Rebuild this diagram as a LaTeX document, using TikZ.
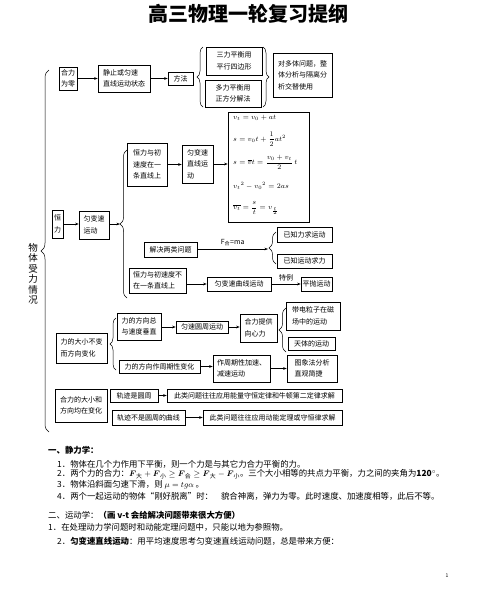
\documentclass[tikz,border=0pt]{standalone}
\usepackage{fontspec}
\setmainfont{Noto Sans CJK SC}
\usepackage{amsmath}
\usetikzlibrary{arrows.meta,decorations.pathreplacing}

\begin{document}
\begin{tikzpicture}[x=1pt, y=-1pt,
    box/.style={draw, line width=0.6pt, inner sep=1pt, align=left, font=\fontsize{7}{11.5}\selectfont},
    sz/.style 2 args={minimum width=#1, minimum height=#2},
    arr/.style={-{Stealth[length=3.5pt,width=2.6pt]}, line width=0.6pt},
    brc/.style={decorate, decoration={brace, amplitude=#1}, line width=0.5pt},
    brc/.default=6pt,
    fml/.style={anchor=west, inner sep=0pt, font=\fontsize{7.3}{9}\selectfont},
    txt/.style={anchor=west, inner sep=0pt, font=\fontsize{8.4}{10}\selectfont}]
\useasboundingbox (0,0) rectangle (496,595);
\fill[white] (0,0) rectangle (496,595);

\node[font=\fontsize{20}{22}\selectfont\bfseries] (title) at (248,14) {高三物理一轮复习提纲};

% big brace
\draw[brc=8pt] (49,432) -- (49,70);
\node[align=center, inner sep=0pt, font=\fontsize{9.5}{10.5}\selectfont] (wtsl) at (33,274) {物\\体\\受\\力\\情\\况};

% balance
\node[box, sz={18}{23}] (hlwl) at (68,78.5) {合力\\为零};
\node[box, sz={52}{27}] (jzzt) at (124,78.5) {静止或匀速\\直线运动状态};
\node[box, sz={25}{13}] (ff) at (180.5,78.5) {方法};
\node[box, sz={56}{28}] (slph) at (234,61) {三力平衡用\\平行四边形};
\node[box, sz={56}{27}] (dlph) at (233,93.5) {多力平衡用\\正方分解法};
\node[box, sz={59}{44}] (dtwt) at (302.5,75) {对多体问题，整\\体分析与隔离分\\析交替使用};
\draw[arr] (hlwl.east) -- (jzzt.west |- hlwl.east);
\draw[arr] (jzzt.east) -- (ff.west |- jzzt.east);
\draw[brc] (203,107) -- (203,47);
\draw[brc] (263,47) -- (263,107);

% constant force
\node[box, sz={11}{28}] (hl) at (57.5,224) {恒\\力};
\node[box, sz={30}{28}] (ybs) at (94,225) {匀变速\\运动};
\coordinate (tipa) at (120,224);
\draw[arr] (hl.east) -- (ybs.west |- hl.east);
\draw[arr] (ybs.east |- tipa) -- (tipa);
\draw[brc=7pt] (127,298) -- (127,150);

\node[box, sz={40}{43}] (hlzx) at (147,164.5) {恒力与初\\速度在一\\条直线上};
\node[box, sz={31}{38}] (ybzx) at (197.5,164) {匀变速\\直线运\\动};
\node[box, sz={81}{110}] (gs) at (268.5,167) {};
\draw[arr] (hlzx.east) -- (ybzx.west |- hlzx.east);
\draw[arr] (ybzx.east) -- (gs.west |- ybzx.east);
\node[fml] (f1) at (233,118) {$v_t=v_0+at$};
\node[fml] (f2) at (233,139) {$s=v_0t+\dfrac{1}{2}at^2$};
\node[fml] (f3) at (233,162.5) {$s=\overline{v}t=\dfrac{v_0+v_t}{2}\,t$};
\node[fml] (f4) at (233,186) {${v_t}^{2}-{v_0}^{2}=2as$};
\node[fml] (f5) at (233,208) {$\overline{v_t}=\dfrac{s}{t}=v_{\frac{t}{2}}$};

\node[box, sz={53}{15}] (jjwt) at (170.5,249.5) {解决两类问题};
\coordinate (tipb) at (268,249);
\draw[arr] (jjwt.east |- tipb) -- node[above, font=\fontsize{7}{8}\selectfont, yshift=-1pt] (fma) {F$_{\text{合}}$=ma} (tipb);
\draw[brc=7pt] (276,264) -- (276,232);
\node[box, sz={55}{15}] (yzl) at (304.5,234.5) {已知力求运动};
\node[box, sz={55}{14}] (yzyd) at (304.5,261) {已知运动求力};

\node[box, sz={57}{25}] (hlbz) at (157.5,280.5) {恒力与初速度不\\在一条直线上};
\node[box, sz={64}{14}] (ybqx) at (239,284) {匀变速曲线运动};
\node[box, sz={31}{14}] (pp) at (316.5,284) {平抛运动};
\draw[arr] (hlbz.east |- ybqx.west) -- (ybqx.west);
\draw[arr] (ybqx.east) -- node[above, font=\fontsize{7}{8}\selectfont, yshift=-0.5pt] (tl) {特例} (pp.west |- ybqx.east);

% direction changes
\node[box, sz={51}{30}] (dxbb) at (81.5,348) {力的大小不变\\而方向变化};
\draw[brc] (116,370) -- (116,318);
\node[box, sz={44}{27}] (fxcz) at (139,326.5) {力的方向总\\与速度垂直};
\node[box, sz={52}{12}] (ysyz) at (202,327) {匀速圆周运动};
\node[box, sz={37}{28}] (hltg) at (258.5,328) {合力提供\\向心力};
\draw[brc=7pt] (286,352) -- (286,308);
\node[box, sz={54}{28}] (ddlz) at (313,316) {带电粒子在磁\\场中的运动};
\node[box, sz={47}{13}] (ttyd) at (311.5,343.5) {天体的运动};
\draw[arr] (fxcz.east |- ysyz.west) -- (ysyz.west);
\draw[arr] (ysyz.east) -- (hltg.west |- ysyz.east);

\node[box, sz={81}{13}] (zqbh) at (159.5,366.5) {力的方向作周期性变化};
\node[box, sz={57}{27}] (zqjs) at (241.5,368.5) {作周期性加速、\\减速运动};
\node[box, sz={50}{27}] (txf) at (312,368.5) {图象法分析\\直观简捷};
\draw[arr] (zqbh.east) -- (zqjs.west |- zqbh.east);
\draw[arr] (zqjs.east) -- (txf.west |- zqjs.east);

% both change
\node[box, sz={52}{33}] (dxfx) at (81,405.5) {合力的大小和\\方向均在变化};
\node[box, sz={48}{13}] (gjy) at (134,395.5) {轨迹是圆周};
\node[box, sz={175}{13}] (nlsh) at (254.5,395.5) {此类问题往往应用能量守恒定律和牛顿第二定律求解};
\node[box, sz={73}{15}] (gjb) at (148.5,417.5) {轨迹不是圆周的曲线};
\node[box, sz={139}{15}] (dndl) at (272.5,417.5) {此类问题往往应用动能定理或守恒律求解};
\draw[arr] (gjy.east) -- (nlsh.west |- gjy.east);
\draw[arr] (gjb.east) -- (dndl.west |- gjb.east);

% notes
\node[txt, font=\fontsize{8.4}{10}\selectfont\bfseries] (t1) at (48,450) {一、静力学：};
\node[txt] (t2) at (57,464) {1．物体在几个力作用下平衡，则一个力是与其它力合力平衡的力。};
\node[txt] (t3) at (57,474.5) {2．两个力的合力：$\boldsymbol{F}_{\text{大}}+\boldsymbol{F}_{\text{小}}\ge\boldsymbol{F}_{\text{合}}\ge\boldsymbol{F}_{\text{大}}-\boldsymbol{F}_{\text{小}}$。三个大小相等的共点力平衡，力之间的夹角为\textbf{120}$^\circ$。};
\node[txt] (t4) at (57,485) {3．物体沿斜面匀速下滑，则 $\mu=tg\alpha$ 。};
\node[txt] (t5) at (57,496) {4．两个一起运动的物体“刚好脱离”时：\hspace{8pt}貌合神离，弹力为零。此时速度、加速度相等，此后不等。};
\node[txt] (t6) at (48,515) {二、运动学：\textbf{（画 v-t 会给解决问题带来很大方便）}};
\node[txt] (t7) at (48,527) {1．在处理动力学问题时和动能定理问题中，只能以地为参照物。};
\node[txt] (t8) at (57,541) {2．\textbf{匀变速直线运动}：用平均速度思考匀变速直线运动问题，总是带来方便：};
\node[font=\fontsize{5}{6}\selectfont] (pg) at (447,576) {1};
\end{tikzpicture}
\end{document}
